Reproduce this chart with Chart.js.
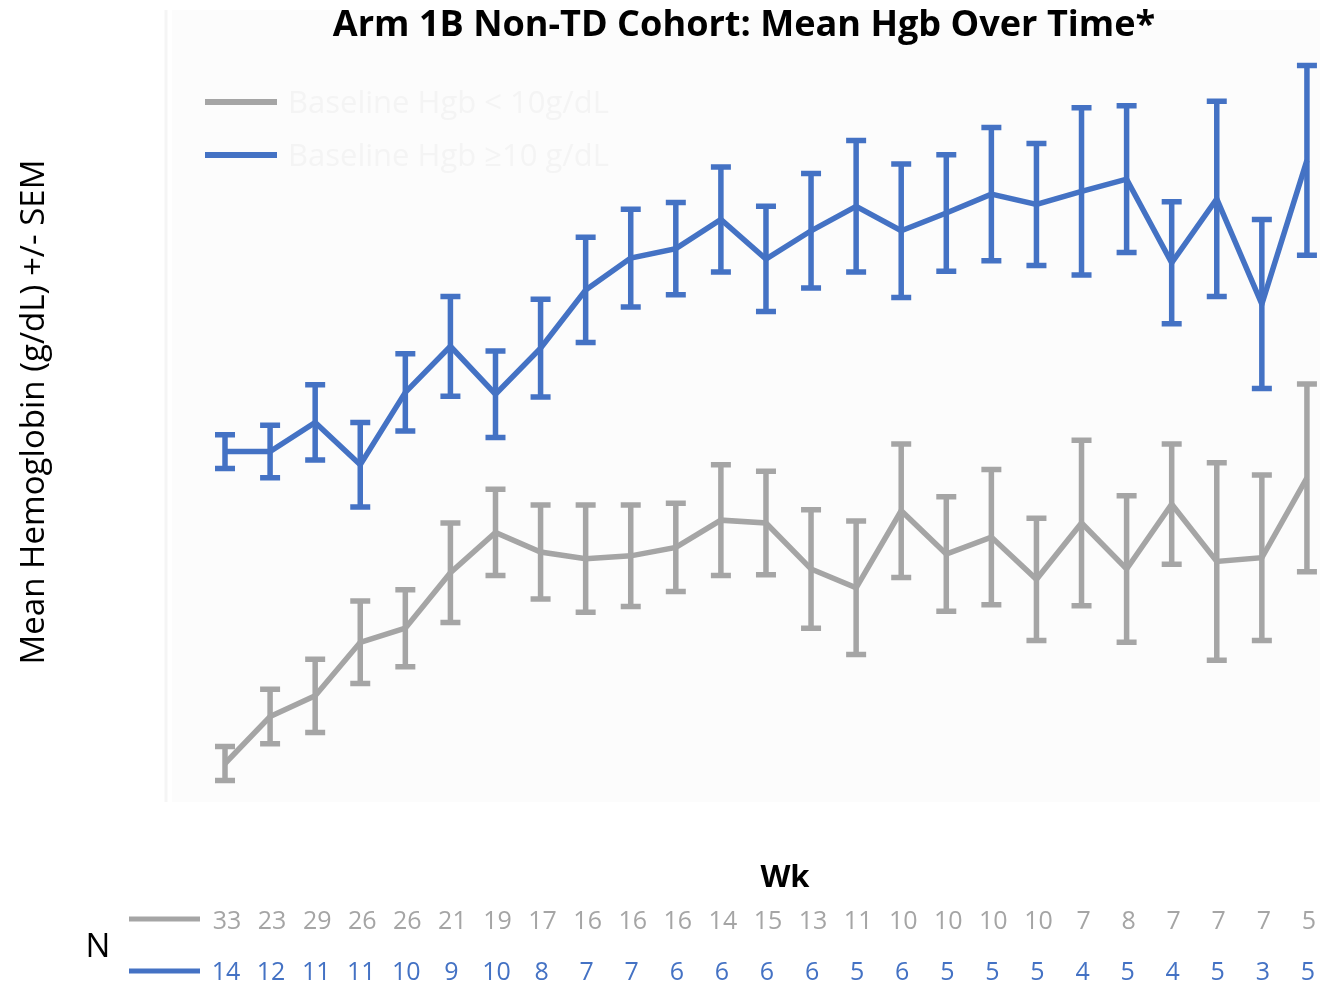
<!DOCTYPE html>
<html>
<head>
<meta charset="utf-8">
<script src="https://cdn.jsdelivr.net/npm/chart.js@4.4.1/dist/chart.umd.min.js"></script>
<style>
  html, body { margin: 0; padding: 0; background: #ffffff; }
  #wrap { width: 1320px; height: 982px; position: relative; }
</style>
</head>
<body>
<div id="wrap"><canvas id="c" width="1320" height="982"></canvas></div>
<script>
// ---- data ----
const weeks = [1,2,3,4,5,6,7,8,9,10,11,12,13,14,15,16,17,18,19,20,21,22,23,24,25];
const seriesNames = ["Baseline Hgb < 10g/dL", "Baseline Hgb \u226510 g/dL"];
const lowMean = [8.61,9.11,9.33,9.90,10.05,10.64,11.07,10.86,10.79,10.82,10.91,11.20,11.17,10.68,10.48,11.30,10.84,11.02,10.57,11.17,10.68,11.37,10.76,10.80,11.65];
const lowSem  = [0.18,0.29,0.39,0.44,0.41,0.53,0.46,0.50,0.57,0.54,0.47,0.59,0.55,0.63,0.71,0.71,0.61,0.72,0.65,0.88,0.78,0.64,1.05,0.88,1.00];
const highMean = [11.93,11.93,12.24,11.79,12.56,13.05,12.54,13.03,13.65,13.99,14.09,14.40,13.98,14.28,14.54,14.28,14.47,14.67,14.56,14.70,14.83,13.94,14.62,13.50,15.03];
const highSem  = [0.18,0.28,0.40,0.45,0.41,0.53,0.46,0.52,0.56,0.52,0.49,0.56,0.56,0.61,0.70,0.71,0.62,0.71,0.65,0.89,0.78,0.65,1.04,0.90,1.01];
const lowN  = [33,23,29,26,26,21,19,17,16,16,16,14,15,13,11,10,10,10,10,7,8,7,7,7,5];
const highN = [14,12,11,11,10,9,10,8,7,7,6,6,6,6,5,6,5,5,5,4,5,4,5,3,5];
const titleText = "Arm 1B Non-TD Cohort: Mean Hgb Over Time*";
const yTitle = "Mean Hemoglobin (g/dL) +/- SEM";
const xTitle = "Wk";
const nLabel = "N";

const GRAY = "#A5A5A5";
const BLUE = "#4472C4";
const FONT = "'Open Sans', 'DejaVu Sans', sans-serif";

function pts(arr) { return arr.map((v, i) => ({ x: i, y: v })); }

function fitFont(ctx, text, weight, target) {
  ctx.font = weight + " 100px " + FONT;
  return 100 * target / ctx.measureText(text).width;
}

const decor = {
  id: "decor",
  beforeDraw(chart) {
    const { ctx, chartArea: a } = chart;
    ctx.save();
    ctx.fillStyle = "#ffffff";
    ctx.fillRect(0, 0, chart.width, chart.height);
    ctx.fillStyle = "#fcfcfc";
    ctx.fillRect(a.left, a.top, a.right - a.left, a.bottom - a.top);
    // faint y axis
    ctx.strokeStyle = "#f5f5f5";
    ctx.lineWidth = 3;
    ctx.beginPath();
    ctx.moveTo(a.left - 6, a.top);
    ctx.lineTo(a.left - 6, a.bottom);
    ctx.stroke();
    ctx.restore();
  },
  beforeDatasetsDraw(chart) {
    const { ctx } = chart;
    const xs = chart.scales.x, ys = chart.scales.y;
    const sets = [[highMean, highSem, BLUE], [lowMean, lowSem, GRAY]];
    ctx.save();
    ctx.lineWidth = 5.5;
    ctx.lineCap = "butt";
    sets.forEach(([m, s, col]) => {
      ctx.strokeStyle = col;
      m.forEach((v, i) => {
        const x = xs.getPixelForValue(i);
        const yt = ys.getPixelForValue(v + s[i]);
        const yb = ys.getPixelForValue(v - s[i]);
        ctx.beginPath();
        ctx.moveTo(x, yt); ctx.lineTo(x, yb);
        ctx.moveTo(x - 10, yt); ctx.lineTo(x + 10, yt);
        ctx.moveTo(x - 10, yb); ctx.lineTo(x + 10, yb);
        ctx.stroke();
      });
    });
    ctx.restore();
  },
  afterDraw(chart) {
    const { ctx } = chart;
    const xs = chart.scales.x;
    ctx.save();
    // title
    let sz = fitFont(ctx, titleText, "bold", 822);
    ctx.font = "bold " + sz.toFixed(1) + "px " + FONT;
    ctx.fillStyle = "#000000";
    ctx.textAlign = "center";
    ctx.textBaseline = "alphabetic";
    ctx.fillText(titleText, 744, 36);

    // y title
    sz = fitFont(ctx, yTitle, "normal", 505);
    ctx.save();
    ctx.translate(44, 412);
    ctx.rotate(-Math.PI / 2);
    ctx.font = "normal " + sz.toFixed(1) + "px " + FONT;
    ctx.textAlign = "center";
    ctx.fillText(yTitle, 0, 0);
    ctx.restore();

    // legend (nearly invisible text)
    ctx.lineWidth = 6;
    [[GRAY, 102, seriesNames[0]], [BLUE, 155, seriesNames[1]]].forEach(([c, y, t]) => {
      ctx.strokeStyle = c;
      ctx.beginPath(); ctx.moveTo(205, y); ctx.lineTo(277, y); ctx.stroke();
      ctx.fillStyle = "#f4f4f4";
      ctx.font = "normal 31px " + FONT;
      ctx.textAlign = "left";
      ctx.textBaseline = "middle";
      ctx.fillText(t, 288, y + 2);
    });

    // x title
    ctx.fillStyle = "#000000";
    ctx.textBaseline = "alphabetic";
    ctx.textAlign = "center";
    ctx.font = "bold 31px " + FONT;
    ctx.fillText(xTitle, 785, 887);

    // N label
    ctx.font = "normal 33px " + FONT;
    ctx.fillText(nLabel, 98, 957);

    // N table lines
    ctx.lineWidth = 5;
    ctx.strokeStyle = GRAY;
    ctx.beginPath(); ctx.moveTo(129, 919); ctx.lineTo(200, 919); ctx.stroke();
    ctx.strokeStyle = BLUE;
    ctx.beginPath(); ctx.moveTo(129, 971); ctx.lineTo(200, 971); ctx.stroke();

    // N values
    ctx.font = "normal 25px " + FONT;
    ctx.textAlign = "center";
    lowN.forEach((n, i) => {
      ctx.fillStyle = GRAY;
      ctx.fillText(String(n), xs.getPixelForValue(i) + 2, 929);
    });
    highN.forEach((n, i) => {
      ctx.fillStyle = BLUE;
      ctx.fillText(String(n), xs.getPixelForValue(i) + 1, 980);
    });
    ctx.restore();
  }
};

new Chart(document.getElementById("c"), {
  type: "line",
  data: {
    datasets: [
      { label: seriesNames[1], data: pts(highMean), borderColor: BLUE, backgroundColor: BLUE,
        borderWidth: 5.5, pointRadius: 0, tension: 0 },
      { label: seriesNames[0], data: pts(lowMean), borderColor: GRAY, backgroundColor: GRAY,
        borderWidth: 5.5, pointRadius: 0, tension: 0 }
    ]
  },
  options: {
    responsive: false,
    animation: false,
    devicePixelRatio: 1,
    layout: { padding: { left: 172, right: 0, top: 10, bottom: 180 } },
    plugins: { legend: { display: false }, title: { display: false }, tooltip: { enabled: false } },
    scales: {
      x: { type: "linear", min: -1.176, max: 24.29, display: false },
      y: { type: "linear", min: 8.2, max: 16.63, display: false }
    }
  },
  plugins: [decor]
});
</script>
</body>
</html>
